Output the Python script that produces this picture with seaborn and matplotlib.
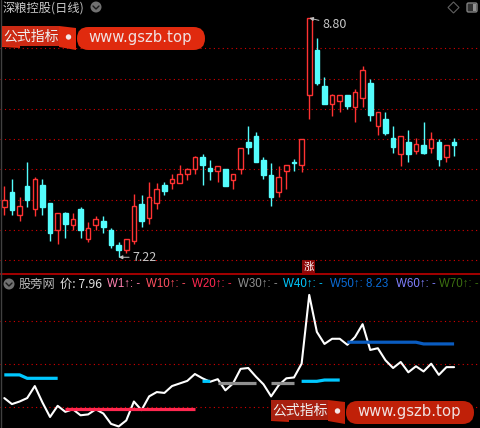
import numpy as np
import pandas as pd
import seaborn as sns
import matplotlib.pyplot as plt
from matplotlib.patches import FancyBboxPatch, Polygon, Circle, Rectangle

opens = [7.55,7.65,7.50,7.69,7.54,7.70,7.58,7.40,7.51,7.43,7.54,7.34,7.43,7.46,7.40,7.30,7.27,7.33,7.57,7.48,
         7.58,7.70,7.71,7.71,7.77,7.80,7.88,7.81,7.79,7.80,7.73,7.80,7.98,8.02,7.86,7.76,7.65,7.79,7.85,7.83,
         8.29,8.59,8.35,8.23,8.25,8.29,8.21,8.27,8.37,8.09,8.13,8.01,7.90,7.98,7.92,7.96,7.94,7.98,7.88,7.98]
closes = [7.60,7.53,7.56,7.60,7.74,7.55,7.38,7.51,7.44,7.47,7.40,7.41,7.47,7.42,7.30,7.27,7.34,7.56,7.46,7.62,
          7.67,7.66,7.74,7.77,7.80,7.88,7.83,7.79,7.82,7.69,7.77,7.94,7.95,7.85,7.76,7.62,7.75,7.83,7.84,8.00,
          8.80,8.37,8.23,8.29,8.29,8.22,8.31,8.46,8.16,8.18,8.04,7.95,8.02,7.90,7.97,7.91,8.00,7.87,7.96,7.96]
highs = [7.69,7.74,7.62,7.85,7.75,7.74,7.58,7.51,7.52,7.51,7.55,7.45,7.49,7.49,7.41,7.32,7.34,7.64,7.63,7.72,
         7.71,7.72,7.77,7.83,7.81,7.89,7.90,7.86,7.82,7.80,7.77,7.94,8.09,8.05,7.88,7.84,7.82,7.83,7.87,8.00,
         8.80,8.67,8.41,8.30,8.29,8.29,8.33,8.48,8.40,8.18,8.18,8.09,8.02,8.06,8.01,8.11,8.05,8.00,7.96,8.01]
lows = [7.50,7.50,7.46,7.55,7.49,7.50,7.33,7.31,7.35,7.40,7.35,7.32,7.40,7.38,7.28,7.22,7.25,7.31,7.42,7.44,
        7.54,7.63,7.67,7.71,7.73,7.77,7.70,7.73,7.72,7.69,7.67,7.77,7.90,7.85,7.74,7.56,7.62,7.67,7.79,7.78,
        8.13,8.36,8.23,8.15,8.18,8.20,8.11,8.21,8.12,8.03,8.03,7.91,7.82,7.85,7.90,7.90,7.91,7.82,7.85,7.89]

nan = float('nan')
w20 = [nan]*8 + [7.47]*18 + [nan]*34
w30 = [nan]*28 + [7.77]*6 + [nan] + [7.77]*4 + [nan]*21
w40 = [7.87]*3 + [7.83]*5 + [nan]*18 + [7.795]*2 + [nan]*11 + [7.795]*3 + [7.81]*3 + [nan]*15
w50 = [nan]*45 + [8.25]*10 + [8.23]*5

main_levels = [7.2,7.4,7.6,7.8,8.0,8.2,8.4,8.6]
sub_levels = [7.5,8.0,8.5]

legend_names = ['W1↑: -','W10↑: -','W20↑: -','W30↑: -','W40↑: -','W50↑: 8.23','W60↑: -','W70↑: -']
legend_colors = ['#ff80b0','#ff5060','#ff2850','#909090','#00c8ff','#0a6cd8','#8080ff','#3c7010']
legend_x = [107,146,192,238,283,330,396,439]

RED = '#ff3232'
CYAN = '#54fcfc'
GRID = '#d80000'

sns.set_theme(style='dark', rc={'axes.facecolor':'black','figure.facecolor':'black'})
plt.rcParams['font.family'] = ['Noto Sans CJK SC','DejaVu Sans']

df = pd.DataFrame({'i':range(len(closes)),'o':opens,'c':closes,'h':highs,'l':lows})
up = df['c'] >= df['o']

W, H = 480, 428
fig = plt.figure(figsize=(4.8,4.28), dpi=100)
ax1 = fig.add_axes([0,1-274.3/H,1,274.3/H])
ax2 = fig.add_axes([0,0,1,(H-274.3)/H])

xlim = (-0.564,62.4)
for ax in (ax1,ax2):
    ax.set_xlim(xlim)
    ax.set_xticks([])
    ax.tick_params(left=False,bottom=False,labelleft=False)
    for s in ax.spines.values():
        s.set_visible(False)

ax1.set_ylim(7.1075,8.919)
ax2.set_ylim(7.252,9.04)
ax1.hlines(main_levels,*xlim,color=GRID,lw=0.8,linestyle=(0,(1,3)),zorder=1)
ax2.hlines(sub_levels,*xlim,color=GRID,lw=0.8,linestyle=(0,(1,3)),zorder=1)

# candles
for mask,col,face in [(up,RED,'black'),(~up,CYAN,CYAN)]:
    d = df[mask]
    ax1.vlines(d['i'],d['l'],d['h'],color=col,lw=1.0,zorder=2)
    ax1.bar(d['i'],(d['c']-d['o']).abs().clip(lower=0.005),bottom=d[['o','c']].min(axis=1),
            width=0.6,facecolor=face,edgecolor=col,linewidth=1.0,zorder=3)

# low/high marks
ax1.annotate('8.80',xy=(40,8.80),xytext=(41.7,8.76),color='#c8c8c8',fontsize=9,va='center',
             arrowprops=dict(arrowstyle='-|>,head_width=0.12,head_length=0.25',color='#c0c0c0',lw=0.7,shrinkA=0,shrinkB=0))
ax1.annotate('7.22',xy=(15,7.22),xytext=(16.8,7.22),color='#c8c8c8',fontsize=9,va='center',
             arrowprops=dict(arrowstyle='-|>,head_width=0.12,head_length=0.25',color='#c0c0c0',lw=0.7,shrinkA=0,shrinkB=0))

# lower panel
sns.lineplot(x=df['i'],y=df['c'],color='white',lw=1.5,ax=ax2,zorder=3,errorbar=None)
ax2.set_xlabel('')
ax2.set_ylabel('')
ax2.set_xticks([])
for vals,col in [(w20,'#ff2850'),(w30,'#909090'),(w40,'#00c8ff'),(w50,'#0a5cc0')]:
    ax2.plot(df['i'],vals,color=col,lw=2.3,zorder=4,solid_capstyle='butt')

# overlay in pixels for header, icons and the site stamps
ov = fig.add_axes([0,0,1,1],facecolor='none')
ov.set_xlim(0,W)
ov.set_ylim(H,0)
ov.axis('off')

ov.axhline(274.3,color='#c00000',lw=1.2)
ov.axvline(0.5,color='#404040',lw=1)

ov.text(3,8,'深粮控股(日线)',color='#c8c8c8',fontsize=8.8,va='center')
ov.text(19,284,'股旁网',color='#b8b8b8',fontsize=8.8,va='center')
ov.text(60,284,'价: 7.96',color='#e0e0e0',fontsize=8.8,va='center')
for name,col,x in zip(legend_names,legend_colors,legend_x):
    ov.text(x,284,name,color=col,fontsize=8.3,va='center',family=['Liberation Sans','DejaVu Sans'])


def chevron_button(cx,cy):
    ov.add_patch(Circle((cx,cy),5.5,facecolor='#707070',edgecolor='none'))
    ov.plot([cx-3,cx,cx+3],[cy-1,cy+2,cy-1],color='#1a1a1a',lw=1)


chevron_button(96,7)
chevron_button(9,284)
ov.add_patch(Polygon([(453.5,2),(459,7.5),(453.5,13),(448,7.5)],facecolor='none',edgecolor='#606060',lw=0.8))
ov.add_patch(FancyBboxPatch((467,3),10,9,boxstyle='round,pad=0,rounding_size=1.5',facecolor='#303030',edgecolor='#808080',lw=1))
ov.add_patch(Rectangle((472.5,4),3.5,7,facecolor='#909090',edgecolor='none'))

ov.add_patch(Rectangle((302,260),13,13,facecolor='#8a0808',edgecolor='none'))
ov.text(308.5,266.5,'涨',color='white',fontsize=7.5,ha='center',va='center')


def stamp(x0,y0,pill,left):
    ov.add_patch(Rectangle((x0,y0),57,20,facecolor=left,edgecolor='none',zorder=6))
    ov.add_patch(Polygon([(x0,y0+20),(x0+18,y0+20),(x0+18,y0+22),(x0,y0+21)],facecolor=pill,edgecolor='none',zorder=6))
    ov.add_patch(Polygon([(x0+57,y0),(x0+74,y0+2),(x0+74,y0+24),(x0+57,y0+21)],facecolor=pill,edgecolor='none',zorder=6))
    ov.add_patch(FancyBboxPatch((x0+75,y0+1),128,23,boxstyle='round,pad=0,rounding_size=11.5',
                                facecolor=pill,edgecolor='none',zorder=6))
    ov.text(x0+1.5,y0+11,'公式指标',color='#f0f0f0',fontsize=10,va='center',zorder=7)
    ov.add_patch(Circle((x0+66.5,y0+11),2.7,facecolor='#f4e8e8',edgecolor='none',zorder=7))
    ov.text(x0+86,y0+11.5,'www.gszb.top',color='#f0e0e0',fontsize=10.7,va='center',family='DejaVu Sans',zorder=7)


stamp(2,26,'#e02a0e','#cc2a14')
stamp(271,400,'#c02008','#a82010')

fig.savefig('out.png',dpi=100,facecolor='black')
